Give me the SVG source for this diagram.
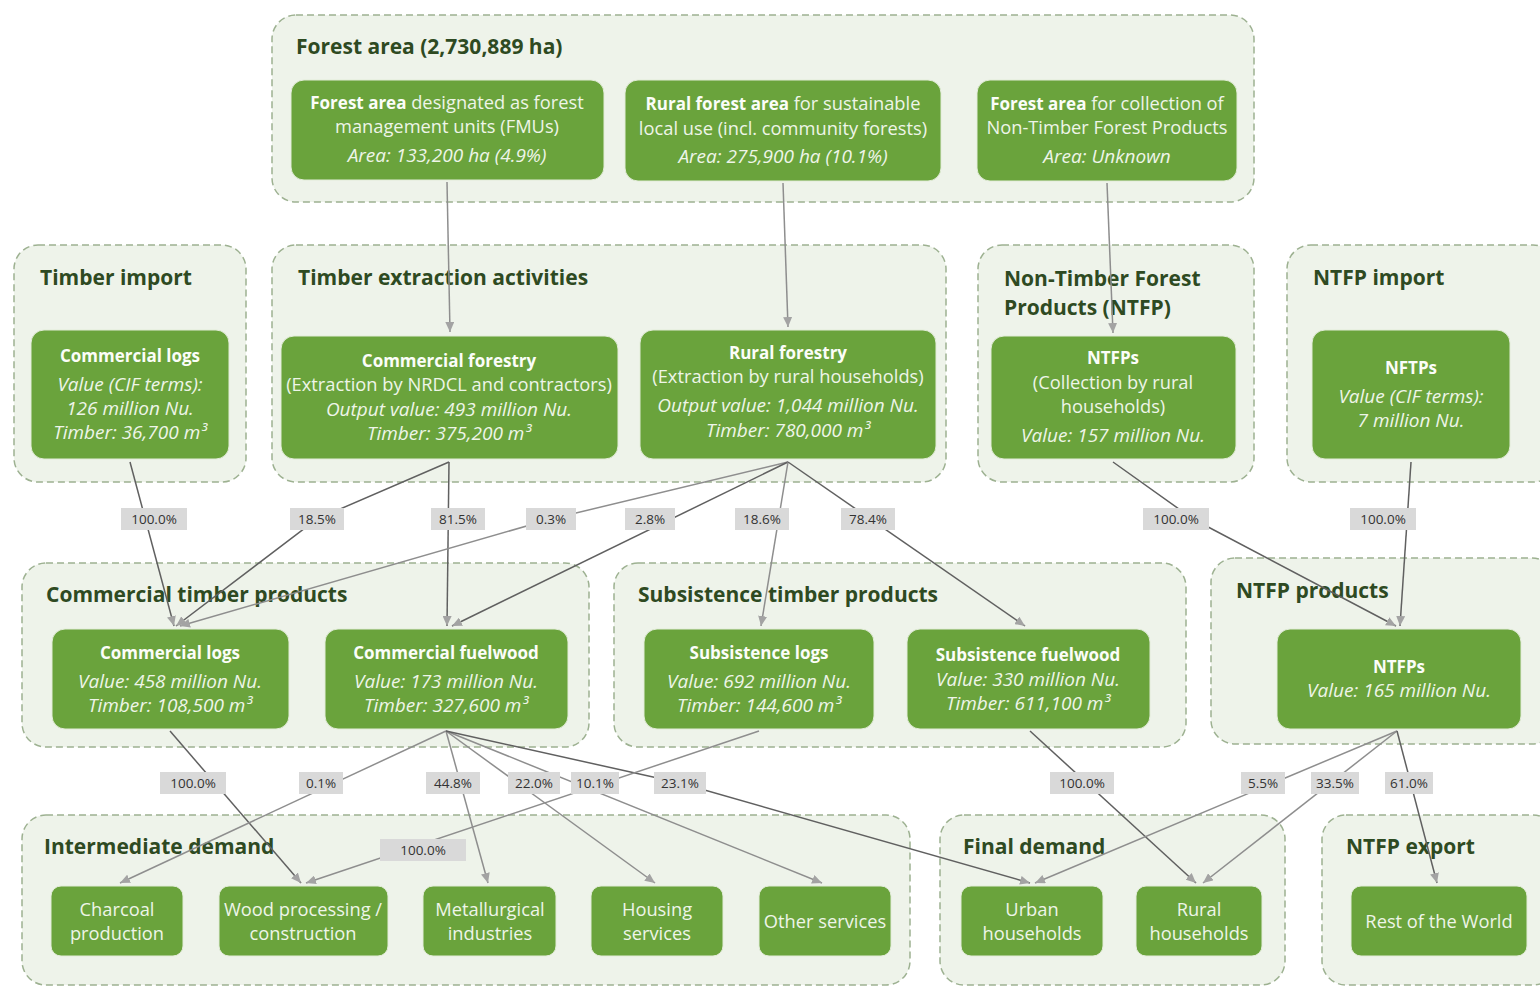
<svg xmlns="http://www.w3.org/2000/svg" width="1540" height="987" viewBox="0 0 1540 987">
<defs>
<style>
.grp{fill:#eef3ea;stroke:#9db191;stroke-width:1.5;stroke-dasharray:7 4}
.gt{font-family:"Open Sans","Liberation Sans",sans-serif;font-weight:bold;font-size:21px;fill:#2e4a22}
.nd{fill:#6aa33c;stroke:#e2ecd8;stroke-width:1}
.t{font-family:"Open Sans","Liberation Sans",sans-serif;font-size:18.3px;fill:#eef5e8;text-anchor:middle}
.b{font-weight:bold;font-size:17px;fill:#fbfdf8}
.i{font-style:italic;font-size:19px}
.c{fill:none;stroke:#8e8e8e;stroke-width:1.5;marker-end:url(#ah)}
.d{stroke:#606060}
.lb{fill:#d9d9d9}
.lt{font-family:"Open Sans","Liberation Sans",sans-serif;font-size:13.5px;fill:#333;text-anchor:middle}
</style>
<marker id="ah" markerUnits="userSpaceOnUse" markerWidth="10" markerHeight="9" refX="10" refY="4.5" orient="auto">
<path d="M0,0 L10,4.5 L0,9 z" fill="#a3a3a3"/>
</marker>
</defs>
<rect width="1540" height="987" fill="#ffffff"/>

<g id="containers">
<g id="g-forest-area"><rect class="grp" x="272" y="15" width="982" height="187" rx="24"/><text class="gt" x="296" y="54">Forest area (2,730,889 ha)</text></g>
<g id="g-timber-import"><rect class="grp" x="14" y="245" width="232" height="237" rx="24"/><text class="gt" x="40" y="285">Timber import</text></g>
<g id="g-timber-extraction"><rect class="grp" x="272" y="245" width="674" height="237" rx="24"/><text class="gt" x="298" y="285">Timber extraction activities</text></g>
<g id="g-ntfp"><rect class="grp" x="978" y="245" width="276" height="237" rx="24"/><text class="gt" x="1004" y="286">Non-Timber Forest</text><text class="gt" x="1004" y="315">Products (NTFP)</text></g>
<g id="g-ntfp-import"><rect class="grp" x="1287" y="245" width="270" height="237" rx="24"/><text class="gt" x="1313" y="285">NTFP import</text></g>
<g id="g-commercial-timber"><rect class="grp" x="22" y="563" width="567" height="184" rx="24"/><text class="gt" x="46" y="602">Commercial timber products</text></g>
<g id="g-subsistence-timber"><rect class="grp" x="614" y="563" width="572" height="184" rx="24"/><text class="gt" x="638" y="602">Subsistence timber products</text></g>
<g id="g-ntfp-products"><rect class="grp" x="1211" y="558" width="345" height="186" rx="24"/><text class="gt" x="1236" y="598">NTFP products</text></g>
<g id="g-intermediate"><rect class="grp" x="22" y="815" width="888" height="170" rx="24"/><text class="gt" x="44" y="854">Intermediate demand</text></g>
<g id="g-final"><rect class="grp" x="940" y="815" width="345" height="170" rx="24"/><text class="gt" x="963" y="854">Final demand</text></g>
<g id="g-ntfp-export"><rect class="grp" x="1322" y="815" width="235" height="170" rx="24"/><text class="gt" x="1346" y="854">NTFP export</text></g>
</g>

<g id="nodes">
<g id="n-fmu"><rect class="nd" x="291" y="80" width="313" height="100" rx="13"/>
<text class="t" x="447" y="109"><tspan class="b">Forest area</tspan> designated as forest</text>
<text class="t" x="447" y="133">management units (FMUs)</text>
<text class="t i" x="447" y="162">Area: 133,200 ha (4.9%)</text></g>
<g id="n-rural-area"><rect class="nd" x="625" y="80" width="316" height="101" rx="13"/>
<text class="t" x="783" y="110"><tspan class="b">Rural forest area</tspan> for sustainable</text>
<text class="t" x="783" y="135">local use (incl. community forests)</text>
<text class="t i" x="783" y="163">Area: 275,900 ha (10.1%)</text></g>
<g id="n-ntfp-area"><rect class="nd" x="977" y="80" width="260" height="101" rx="13"/>
<text class="t" x="1107" y="110"><tspan class="b">Forest area</tspan> for collection of</text>
<text class="t" x="1107" y="134">Non-Timber Forest Products</text>
<text class="t i" x="1107" y="163">Area: Unknown</text></g>

<g id="n-import-logs"><rect class="nd" x="31" y="330" width="198" height="129" rx="13"/>
<text class="t b" x="130" y="362">Commercial logs</text>
<text class="t i" x="130" y="391">Value (CIF terms):</text>
<text class="t i" x="130" y="415">126 million Nu.</text>
<text class="t i" x="130" y="439">Timber: 36,700 m³</text></g>
<g id="n-commercial-forestry"><rect class="nd" x="281" y="336" width="337" height="123" rx="13"/>
<text class="t b" x="449" y="367">Commercial forestry</text>
<text class="t" x="449" y="391">(Extraction by NRDCL and contractors)</text>
<text class="t i" x="449" y="416">Output value: 493 million Nu.</text>
<text class="t i" x="449" y="440">Timber: 375,200 m³</text></g>
<g id="n-rural-forestry"><rect class="nd" x="640" y="330" width="296" height="129" rx="13"/>
<text class="t b" x="788" y="359">Rural forestry</text>
<text class="t" x="788" y="383">(Extraction by rural households)</text>
<text class="t i" x="788" y="412">Output value: 1,044 million Nu.</text>
<text class="t i" x="788" y="437">Timber: 780,000 m³</text></g>
<g id="n-ntfp-collection"><rect class="nd" x="991" y="336" width="245" height="123" rx="13"/>
<text class="t b" x="1113" y="364">NTFPs</text>
<text class="t" x="1113" y="389">(Collection by rural</text>
<text class="t" x="1113" y="413">households)</text>
<text class="t i" x="1113" y="442">Value: 157 million Nu.</text></g>
<g id="n-ntfp-import"><rect class="nd" x="1312" y="330" width="198" height="129" rx="13"/>
<text class="t b" x="1411" y="374">NFTPs</text>
<text class="t i" x="1411" y="403">Value (CIF terms):</text>
<text class="t i" x="1411" y="427">7 million Nu.</text></g>

<g id="n-commercial-logs"><rect class="nd" x="52" y="629" width="237" height="100" rx="13"/>
<text class="t b" x="170" y="659">Commercial logs</text>
<text class="t i" x="170" y="688">Value: 458 million Nu.</text>
<text class="t i" x="170" y="712">Timber: 108,500 m³</text></g>
<g id="n-commercial-fuelwood"><rect class="nd" x="325" y="629" width="243" height="100" rx="13"/>
<text class="t b" x="446" y="659">Commercial fuelwood</text>
<text class="t i" x="446" y="688">Value: 173 million Nu.</text>
<text class="t i" x="446" y="712">Timber: 327,600 m³</text></g>
<g id="n-subsistence-logs"><rect class="nd" x="644" y="629" width="230" height="100" rx="13"/>
<text class="t b" x="759" y="659">Subsistence logs</text>
<text class="t i" x="759" y="688">Value: 692 million Nu.</text>
<text class="t i" x="759" y="712">Timber: 144,600 m³</text></g>
<g id="n-subsistence-fuelwood"><rect class="nd" x="907" y="629" width="243" height="100" rx="13"/>
<text class="t b" x="1028" y="661">Subsistence fuelwood</text>
<text class="t i" x="1028" y="686">Value: 330 million Nu.</text>
<text class="t i" x="1028" y="710">Timber: 611,100 m³</text></g>
<g id="n-ntfp-products"><rect class="nd" x="1277" y="629" width="244" height="100" rx="13"/>
<text class="t b" x="1399" y="673">NTFPs</text>
<text class="t i" x="1399" y="697">Value: 165 million Nu.</text></g>

<g id="n-charcoal"><rect class="nd" x="51" y="886" width="132" height="70" rx="10"/>
<text class="t" x="117" y="916">Charcoal</text><text class="t" x="117" y="940">production</text></g>
<g id="n-wood-processing"><rect class="nd" x="219" y="886" width="169" height="70" rx="10"/>
<text class="t" x="303" y="916">Wood processing /</text><text class="t" x="303" y="940">construction</text></g>
<g id="n-metallurgical"><rect class="nd" x="423" y="886" width="133" height="70" rx="10"/>
<text class="t" x="490" y="916">Metallurgical</text><text class="t" x="490" y="940">industries</text></g>
<g id="n-housing"><rect class="nd" x="591" y="886" width="132" height="70" rx="10"/>
<text class="t" x="657" y="916">Housing</text><text class="t" x="657" y="940">services</text></g>
<g id="n-other-services"><rect class="nd" x="759" y="886" width="132" height="70" rx="10"/>
<text class="t" x="825" y="928">Other services</text></g>
<g id="n-urban-households"><rect class="nd" x="961" y="886" width="142" height="70" rx="10"/>
<text class="t" x="1032" y="916">Urban</text><text class="t" x="1032" y="940">households</text></g>
<g id="n-rural-households"><rect class="nd" x="1136" y="886" width="126" height="70" rx="10"/>
<text class="t" x="1199" y="916">Rural</text><text class="t" x="1199" y="940">households</text></g>
<g id="n-rest-of-world"><rect class="nd" x="1351" y="886" width="176" height="70" rx="10"/>
<text class="t" x="1439" y="928">Rest of the World</text></g>
</g>

<g id="connectors">
<path class="c" d="M447,182 L450,332"/>
<path class="c" d="M783,183 L788,327"/>
<path class="c" d="M1107,183 L1113,333"/>
<path class="c d" d="M130,462 L174,626"/>
<path class="c d" d="M449,462 L317,519 L176,626"/>
<path class="c d" d="M449,462 L447,626"/>
<path class="c" d="M788,462 L551,519 L180,626"/>
<path class="c d" d="M788,462 L452,626"/>
<path class="c" d="M788,462 L761,626"/>
<path class="c d" d="M788,462 L1025,626"/>
<path class="c d" d="M1113,462 L1193,519 L1396,626"/>
<path class="c d" d="M1411,462 L1400,626"/>
<path class="c d" d="M170,731 L301,883"/>
<path class="c" d="M446,731 L120,883"/>
<path class="c" d="M446,731 L488,883"/>
<path class="c" d="M446,731 L655,883"/>
<path class="c" d="M446,731 L822,883"/>
<path class="c d" d="M446,731 L680,783 L1030,883"/>
<path class="c" d="M759,731 L306,883"/>
<path class="c d" d="M1030,731 L1196,883"/>
<path class="c" d="M1397,731 L1035,883"/>
<path class="c" d="M1397,731 L1203,883"/>
<path class="c d" d="M1397,731 L1437,883"/>

<g id="labels">
<rect class="lb" x="121" y="508" width="66" height="22"/><text class="lt" x="154" y="524">100.0%</text>
<rect class="lb" x="290" y="508" width="54" height="22"/><text class="lt" x="317" y="524">18.5%</text>
<rect class="lb" x="431" y="508" width="54" height="22"/><text class="lt" x="458" y="524">81.5%</text>
<rect class="lb" x="526" y="508" width="50" height="22"/><text class="lt" x="551" y="524">0.3%</text>
<rect class="lb" x="625" y="508" width="50" height="22"/><text class="lt" x="650" y="524">2.8%</text>
<rect class="lb" x="735" y="508" width="54" height="22"/><text class="lt" x="762" y="524">18.6%</text>
<rect class="lb" x="841" y="508" width="54" height="22"/><text class="lt" x="868" y="524">78.4%</text>
<rect class="lb" x="1143" y="508" width="66" height="22"/><text class="lt" x="1176" y="524">100.0%</text>
<rect class="lb" x="1350" y="508" width="66" height="22"/><text class="lt" x="1383" y="524">100.0%</text>
<rect class="lb" x="160" y="772" width="66" height="22"/><text class="lt" x="193" y="788">100.0%</text>
<rect class="lb" x="299" y="772" width="44" height="22"/><text class="lt" x="321" y="788">0.1%</text>
<rect class="lb" x="426" y="772" width="54" height="22"/><text class="lt" x="453" y="788">44.8%</text>
<rect class="lb" x="508" y="772" width="52" height="22"/><text class="lt" x="534" y="788">22.0%</text>
<rect class="lb" x="571" y="772" width="48" height="22"/><text class="lt" x="595" y="788">10.1%</text>
<rect class="lb" x="654" y="772" width="52" height="22"/><text class="lt" x="680" y="788">23.1%</text>
<rect class="lb" x="1050" y="772" width="64" height="22"/><text class="lt" x="1082" y="788">100.0%</text>
<rect class="lb" x="1241" y="772" width="44" height="22"/><text class="lt" x="1263" y="788">5.5%</text>
<rect class="lb" x="1311" y="772" width="48" height="22"/><text class="lt" x="1335" y="788">33.5%</text>
<rect class="lb" x="1385" y="772" width="48" height="22"/><text class="lt" x="1409" y="788">61.0%</text>
<rect class="lb" x="380" y="839" width="86" height="22"/><text class="lt" x="423" y="855">100.0%</text>
</g>
</g>
</svg>
